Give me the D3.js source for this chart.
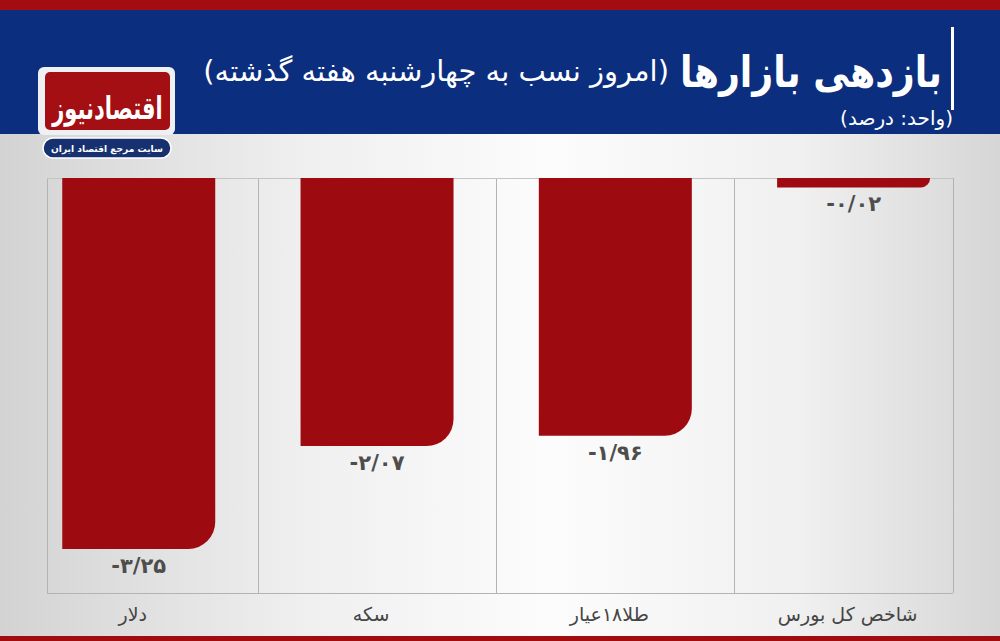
<!DOCTYPE html>
<html><head><meta charset="utf-8">
<script src="https://cdn.jsdelivr.net/npm/d3@7"></script>
<style>body{margin:0;overflow:hidden;background:#fff} svg{display:block}</style>
</head><body><svg id="c" width="1000" height="641"></svg>
<script>
// ---- data ----
const categories = ["دلار", "سکه", "طلا۱۸عیار", "شاخص کل بورس"];
const values = [-3.25, -2.07, -1.96, -0.02];
const titleMain = "بازدهی بازارها";
const titleSub = "(امروز نسب به چهارشنبه هفته گذشته)";
const unitLabel = "(واحد: درصد)";
const logoName = "اقتصادنیوز";
const logoTag = "سایت مرجع اقتصاد ایران";

const faDigits = "۰۱۲۳۴۵۶۷۸۹";
const fmt = v => (v < 0 ? "-" : "") + Math.abs(v).toFixed(2).replace(/\d/g, d => faDigits[d]).replace(".", "/");

const W = 1000, H = 641;
const svg = d3.select("#c");
const defs = svg.append("defs");
const FONT = "DejaVu Sans, Noto Sans, sans-serif";

// background gradient
const g1 = defs.append("linearGradient").attr("id", "bg").attr("x1", "0").attr("x2", "1").attr("y1", "0").attr("y2", "0");
[[0, "#d3d3d3"], [0.3, "#efefef"], [0.55, "#fcfcfc"], [0.8, "#f0f0f0"], [1, "#d6d6d6"]]
  .forEach(([o, c]) => g1.append("stop").attr("offset", o).attr("stop-color", c));
svg.append("rect").attr("width", W).attr("height", H).attr("fill", "url(#bg)");

// header
svg.append("rect").attr("x", 0).attr("y", 0).attr("width", W).attr("height", 11).attr("fill", "#a30d11");
svg.append("rect").attr("x", 0).attr("y", 10).attr("width", W).attr("height", 124).attr("fill", "#0b2e7e");
svg.append("rect").attr("x", 0).attr("y", 636).attr("width", W).attr("height", 5).attr("fill", "#a00c10");

// title bar
svg.append("rect").attr("x", 951).attr("y", 27).attr("width", 3).attr("height", 83).attr("fill", "#ffffff");

function placeRight(sel, right) {
  const b = sel.node().getBBox();
  sel.attr("x", +sel.attr("x") + (right - (b.x + b.width)));
}
function fitWidth(sel, w) {
  const b = sel.node().getBBox();
  sel.attr("font-size", +sel.attr("font-size") * w / b.width);
}
// main title: taller glyphs, horizontally condensed to the reference width
const tMainG = svg.append("g");
const tMain = tMainG.append("text").attr("x", 0).attr("y", 0).attr("direction", "rtl")
  .attr("font-family", FONT).attr("font-weight", "bold").attr("font-size", 43).attr("fill", "#fff").text(titleMain);
{
  const b = tMain.node().getBBox();
  const sx = 262 / b.width;
  tMainG.attr("transform", `translate(${942 - (b.x + b.width) * sx},87) scale(${sx},1)`);
}
const tSub = svg.append("text").attr("x", 0).attr("y", 81).attr("direction", "rtl")
  .attr("font-family", FONT).attr("font-size", 29).attr("fill", "#fff").text(titleSub);
fitWidth(tSub, 466);
placeRight(tSub, 669);
const tUnit = svg.append("text").attr("x", 0).attr("y", 125).attr("direction", "rtl")
  .attr("font-family", FONT).attr("font-size", 19).attr("fill", "#fff").text(unitLabel);
fitWidth(tUnit, 113);
placeRight(tUnit, 953);

// logo
svg.append("rect").attr("x", 38).attr("y", 67).attr("width", 137).attr("height", 68).attr("rx", 6).attr("fill", "#eef0f4");
svg.append("rect").attr("x", 45).attr("y", 72).attr("width", 125).attr("height", 58).attr("rx", 5).attr("fill", "#a30f12");
const ln = svg.append("text").attr("x", 107.5).attr("y", 113).attr("text-anchor", "middle").attr("direction", "rtl")
  .attr("font-family", FONT).attr("font-weight", "bold").attr("font-size", 24).attr("fill", "#fff")
  .attr("transform", "translate(107.5,101) scale(1,1.5) translate(-107.5,-101)").text(logoName);
fitWidth(ln, 112);
svg.append("rect").attr("x", 43).attr("y", 138).attr("width", 128).attr("height", 20).attr("rx", 10)
  .attr("fill", "#17306f").attr("stroke", "#fff").attr("stroke-width", 1.5);
const lt = svg.append("text").attr("x", 107).attr("y", 152).attr("text-anchor", "middle").attr("direction", "rtl")
  .attr("font-family", FONT).attr("font-weight", "bold").attr("font-size", 11).attr("fill", "#fff").text(logoTag);
fitWidth(lt, 112);

// ---- chart ----
const plotL = 47, plotR = 953, plotT = 178, plotB = 593;
const x = d3.scaleBand().domain(categories).range([plotL, plotR]).paddingInner(0.358).paddingOuter(0.08).align(0.4);
const y = d3.scalePow().exponent(0.72).domain([0, -3.25]).range([plotT, 549]);

// grid
const bw = x.bandwidth();
const gridX = [plotL];
for (let i = 0; i < categories.length - 1; i++) gridX.push((x(categories[i]) + bw + x(categories[i + 1])) / 2);
gridX.push(plotR);
const grid = svg.append("g").attr("stroke", "#b3b3b3").attr("stroke-width", 1).attr("shape-rendering", "crispEdges");
grid.selectAll("line.v").data(gridX).join("line").attr("class", "v")
  .attr("x1", d => Math.round(d) + 0.5).attr("x2", d => Math.round(d) + 0.5).attr("y1", plotT).attr("y2", plotB);
grid.append("line").attr("x1", plotL).attr("x2", plotR).attr("y1", plotB + 0.5).attr("y2", plotB + 0.5);
grid.append("line").attr("x1", plotL).attr("x2", plotR).attr("y1", plotT + 0.5).attr("y2", plotT + 0.5).attr("stroke", "#c4c4c4");

// bars
const data = categories.map((c, i) => ({ c, v: values[i] }));
function barPath(d) {
  const x0 = x(d.c), x1 = x0 + bw, y0 = y(0), yb = y(d.v);
  const r = Math.min(27, (yb - y0));
  return `M${x0},${y0}H${x1}V${yb - r}A${r},${r} 0 0 1 ${x1 - r},${yb}H${x0}Z`;
}
svg.append("g").selectAll("path").data(data).join("path").attr("d", barPath).attr("fill", "#9d0a0f");

// value labels
svg.append("g").selectAll("text").data(data).join("text")
  .attr("x", d => x(d.c) + bw / 2).attr("y", d => y(d.v) + 24)
  .attr("text-anchor", "middle").attr("font-family", FONT).attr("font-weight", "bold")
  .attr("font-size", 21).attr("fill", "#4d4d4d").text(d => fmt(d.v));

// category labels
svg.append("g").selectAll("text").data(categories).join("text")
  .attr("x", d => x(d) + bw / 2 - 6).attr("y", 621).attr("text-anchor", "middle").attr("direction", "rtl")
  .attr("font-family", FONT).attr("font-size", 19).attr("fill", "#454545").text(d => d);
</script></body></html>
